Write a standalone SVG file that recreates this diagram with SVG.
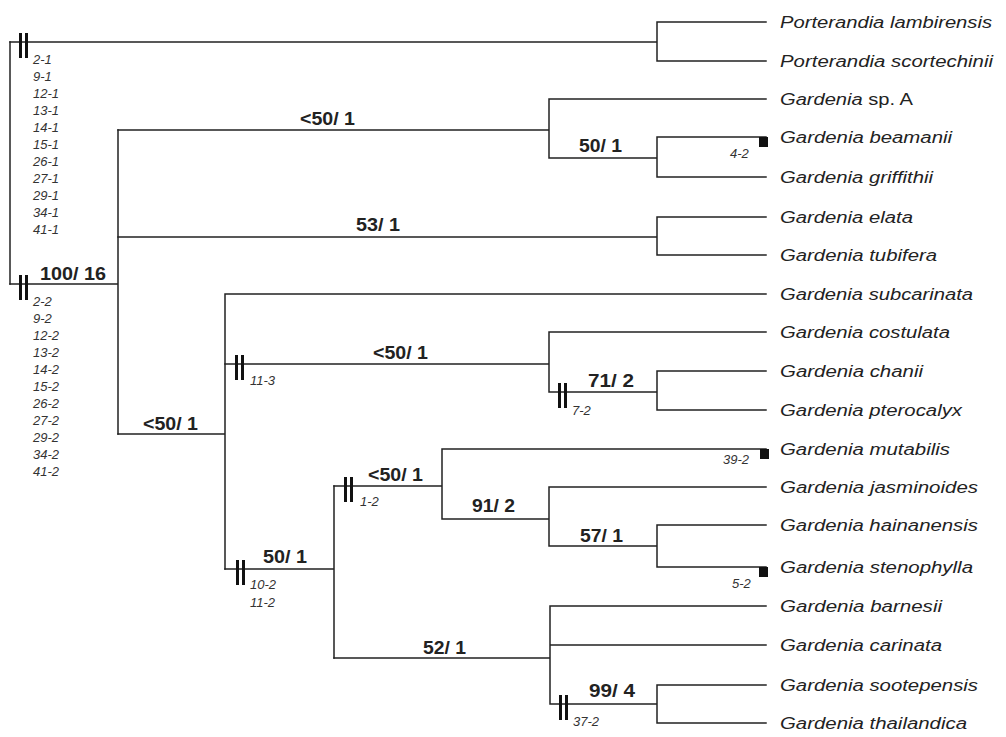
<svg xmlns="http://www.w3.org/2000/svg" xmlns:xlink="http://www.w3.org/1999/xlink" width="1006" height="737" viewBox="0 0 1006 737">
<style>
.br{fill:none;stroke:#222;stroke-width:1.5;stroke-linecap:square}
.tx{font-family:"Liberation Sans",Arial,sans-serif;font-size:16px;font-style:italic;fill:#222}
.up{font-style:normal}
.bs{font-family:"Liberation Sans",Arial,sans-serif;font-size:18px;font-weight:bold;fill:#222}
.ch{font-family:"Liberation Sans",Arial,sans-serif;font-size:13px;font-style:italic;fill:#333}
.sq{fill:#111}
</style>
<defs>
<g id="tick"><rect x="0" y="-9" width="3" height="25" fill="#111"/><rect x="6" y="-9" width="3" height="25" fill="#111"/></g>
</defs>
<rect width="1006" height="737" fill="#fff"/>
<g id="connectors">
<path class="br" d="M10 42V284"/>
<path class="br" d="M10 42H657M657 22V61M657 22H766M657 61H766"/>
<path class="br" d="M10 284H118M118 130V434"/>
<path class="br" d="M118 130H549M549 99V158M549 99H766M549 158H657M657 137V177M657 137H766M657 177H766"/>
<path class="br" d="M118 237H657M657 217V255M657 217H766M657 255H766"/>
<path class="br" d="M118 434H225M225 294V569M225 294H766"/>
<path class="br" d="M225 364H549M549 332V392M549 332H766M549 392H657M657 371V410M657 371H766M657 410H766"/>
<path class="br" d="M225 569H334M334 486V658"/>
<path class="br" d="M334 486H442M442 449V519M442 449H766M442 519H549M549 487V546M549 487H766M549 546H657M657 525V567M657 525H766M657 567H766"/>
<path class="br" d="M334 658H550M550 606V704M550 606H766M550 645H766M550 704H657M657 685V723M657 685H766M657 723H766"/>
</g>
<g id="synapomorphies">
<use xlink:href="#tick" x="19" y="42"/>
<use xlink:href="#tick" x="19" y="284"/>
<use xlink:href="#tick" x="235" y="364"/>
<use xlink:href="#tick" x="236" y="569"/>
<use xlink:href="#tick" x="344" y="486"/>
<use xlink:href="#tick" x="558" y="392"/>
<use xlink:href="#tick" x="559" y="704"/>
<rect class="sq" x="759" y="137" width="9" height="10"/>
<rect class="sq" x="760" y="449" width="9" height="10"/>
<rect class="sq" x="759" y="567" width="9" height="10"/>
</g>
<g id="node-root-top">
<text class="ch" x="33" y="64">2-1</text>
<text class="ch" x="33" y="81">9-1</text>
<text class="ch" x="33" y="98">12-1</text>
<text class="ch" x="33" y="115">13-1</text>
<text class="ch" x="33" y="132">14-1</text>
<text class="ch" x="33" y="149">15-1</text>
<text class="ch" x="33" y="166">26-1</text>
<text class="ch" x="33" y="183">27-1</text>
<text class="ch" x="33" y="200">29-1</text>
<text class="ch" x="33" y="217">34-1</text>
<text class="ch" x="33" y="234">41-1</text>
</g>
<g id="node-gardenia">
<text class="bs" x="40" y="280" textLength="66" lengthAdjust="spacingAndGlyphs">100/ 16</text>
<text class="ch" x="33" y="306">2-2</text>
<text class="ch" x="33" y="323">9-2</text>
<text class="ch" x="33" y="340">12-2</text>
<text class="ch" x="33" y="357">13-2</text>
<text class="ch" x="33" y="374">14-2</text>
<text class="ch" x="33" y="391">15-2</text>
<text class="ch" x="33" y="408">26-2</text>
<text class="ch" x="33" y="425">27-2</text>
<text class="ch" x="33" y="442">29-2</text>
<text class="ch" x="33" y="459">34-2</text>
<text class="ch" x="33" y="476">41-2</text>
</g>
<g id="node-spA-clade"><text class="bs" x="300" y="125" textLength="55" lengthAdjust="spacingAndGlyphs">&lt;50/ 1</text></g>
<g id="node-beamanii-clade"><text class="bs" x="579" y="151.5" textLength="43" lengthAdjust="spacingAndGlyphs">50/ 1</text><text class="ch" x="730" y="158">4-2</text></g>
<g id="node-elata-clade"><text class="bs" x="356" y="231" textLength="44" lengthAdjust="spacingAndGlyphs">53/ 1</text></g>
<g id="node-core"><text class="bs" x="143" y="430" textLength="55" lengthAdjust="spacingAndGlyphs">&lt;50/ 1</text></g>
<g id="node-costulata-clade"><text class="bs" x="373" y="359" textLength="55" lengthAdjust="spacingAndGlyphs">&lt;50/ 1</text><text class="ch" x="250" y="385">11-3</text></g>
<g id="node-chanii-clade"><text class="bs" x="588" y="386.5" textLength="46" lengthAdjust="spacingAndGlyphs">71/ 2</text><text class="ch" x="572" y="415">7-2</text></g>
<g id="node-asian-clade"><text class="bs" x="263" y="563" textLength="44" lengthAdjust="spacingAndGlyphs">50/ 1</text><text class="ch" x="250" y="589">10-2</text><text class="ch" x="250" y="607">11-2</text></g>
<g id="node-mutabilis-clade"><text class="bs" x="368" y="480.5" textLength="55" lengthAdjust="spacingAndGlyphs">&lt;50/ 1</text><text class="ch" x="360" y="506">1-2</text><text class="ch" x="723" y="464">39-2</text></g>
<g id="node-jasminoides-clade"><text class="bs" x="472" y="512" textLength="43" lengthAdjust="spacingAndGlyphs">91/ 2</text></g>
<g id="node-hainanensis-clade"><text class="bs" x="580" y="541.5" textLength="43" lengthAdjust="spacingAndGlyphs">57/ 1</text><text class="ch" x="732" y="588">5-2</text></g>
<g id="node-barnesii-clade"><text class="bs" x="423" y="654" textLength="43" lengthAdjust="spacingAndGlyphs">52/ 1</text></g>
<g id="node-sootepensis-clade"><text class="bs" x="589" y="697" textLength="46" lengthAdjust="spacingAndGlyphs">99/ 4</text><text class="ch" x="573" y="726">37-2</text></g>
<g id="taxon-1"><text class="tx" x="780" y="28" textLength="212" lengthAdjust="spacingAndGlyphs">Porterandia lambirensis</text></g>
<g id="taxon-2"><text class="tx" x="780" y="67" textLength="213" lengthAdjust="spacingAndGlyphs">Porterandia scortechinii</text></g>
<g id="taxon-3"><text class="tx" x="780" y="105" textLength="133" lengthAdjust="spacingAndGlyphs">Gardenia<tspan class="up"> sp. A</tspan></text></g>
<g id="taxon-4"><text class="tx" x="780" y="143" textLength="172" lengthAdjust="spacingAndGlyphs">Gardenia beamanii</text></g>
<g id="taxon-5"><text class="tx" x="780" y="183" textLength="153" lengthAdjust="spacingAndGlyphs">Gardenia griffithii</text></g>
<g id="taxon-6"><text class="tx" x="780" y="223" textLength="133" lengthAdjust="spacingAndGlyphs">Gardenia elata</text></g>
<g id="taxon-7"><text class="tx" x="780" y="261" textLength="157" lengthAdjust="spacingAndGlyphs">Gardenia tubifera</text></g>
<g id="taxon-8"><text class="tx" x="780" y="300" textLength="193" lengthAdjust="spacingAndGlyphs">Gardenia subcarinata</text></g>
<g id="taxon-9"><text class="tx" x="780" y="338" textLength="170" lengthAdjust="spacingAndGlyphs">Gardenia costulata</text></g>
<g id="taxon-10"><text class="tx" x="780" y="377" textLength="143" lengthAdjust="spacingAndGlyphs">Gardenia chanii</text></g>
<g id="taxon-11"><text class="tx" x="780" y="416" textLength="182" lengthAdjust="spacingAndGlyphs">Gardenia pterocalyx</text></g>
<g id="taxon-12"><text class="tx" x="780" y="455" textLength="170" lengthAdjust="spacingAndGlyphs">Gardenia mutabilis</text></g>
<g id="taxon-13"><text class="tx" x="780" y="493" textLength="198" lengthAdjust="spacingAndGlyphs">Gardenia jasminoides</text></g>
<g id="taxon-14"><text class="tx" x="780" y="531" textLength="198" lengthAdjust="spacingAndGlyphs">Gardenia hainanensis</text></g>
<g id="taxon-15"><text class="tx" x="780" y="573" textLength="193" lengthAdjust="spacingAndGlyphs">Gardenia stenophylla</text></g>
<g id="taxon-16"><text class="tx" x="780" y="612" textLength="162" lengthAdjust="spacingAndGlyphs">Gardenia barnesii</text></g>
<g id="taxon-17"><text class="tx" x="780" y="651" textLength="162" lengthAdjust="spacingAndGlyphs">Gardenia carinata</text></g>
<g id="taxon-18"><text class="tx" x="780" y="691" textLength="198" lengthAdjust="spacingAndGlyphs">Gardenia sootepensis</text></g>
<g id="taxon-19"><text class="tx" x="780" y="729" textLength="187" lengthAdjust="spacingAndGlyphs">Gardenia thailandica</text></g>
</svg>
